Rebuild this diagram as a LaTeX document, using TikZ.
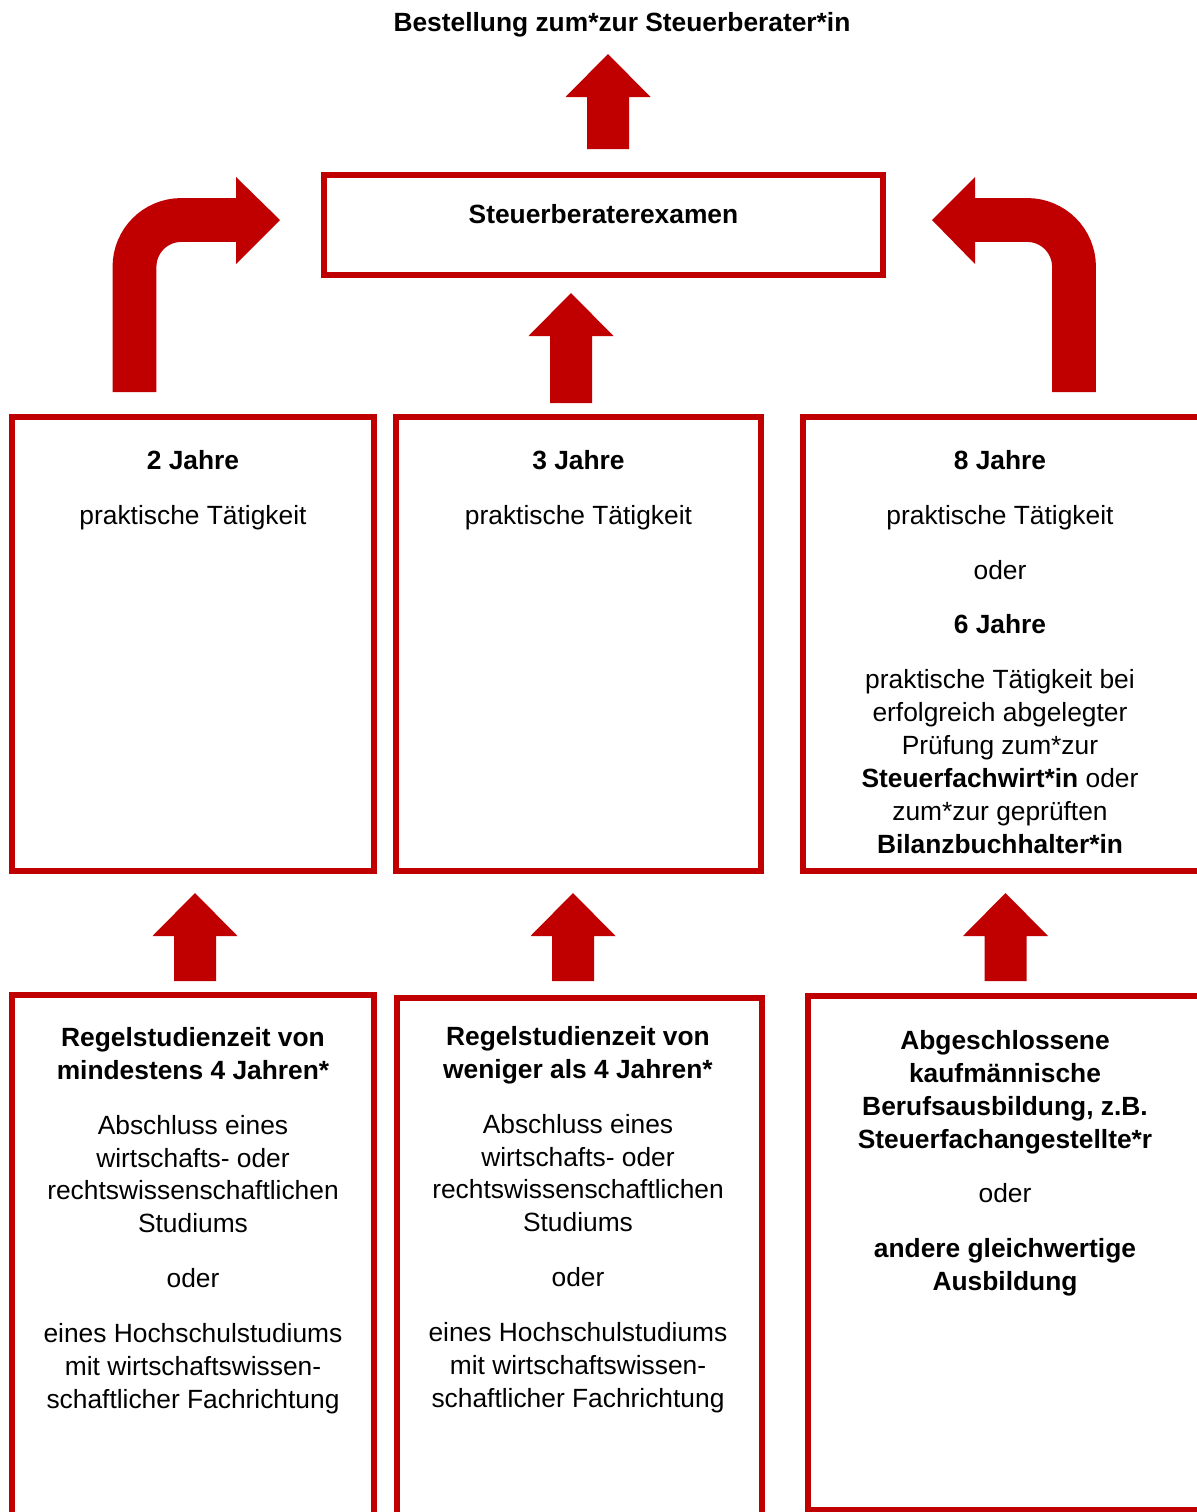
\documentclass[tikz,border=0pt]{standalone}
\usepackage{fontspec}
\setmainfont{Liberation Sans}
\usetikzlibrary{calc}
\definecolor{sred}{RGB}{192,0,0}
\tikzset{>=stealth}
\newcommand{\pgap}{\\[12.5pt]}

\begin{document}
\begin{tikzpicture}[x=0.02cm, y=-0.02cm,
    box/.style={draw=sred, line width=3.4pt, outer sep=0pt, inner sep=0pt},
    txt/.style={anchor=north, align=center, inner sep=0pt, text=black,
        font=\fontsize{15}{18.7}\selectfont},
    pics/uparr/.style={code={
        \fill[sred] (0,0) -- (42.5,43) -- (21,43) -- (21,#1) -- (-21,#1)
            -- (-21,43) -- (-42.5,43) -- cycle;}}]
    \useasboundingbox (0,0) rectangle (1197,1512);
    \clip (0,0) rectangle (1197,1512);

    % boxes
    \node[box, minimum width=11.18cm, minimum height=2cm] (exam) at (603.5,225) {};
    \node[box, minimum width=7.24cm, minimum height=9.08cm] (pt1) at (193,644) {};
    \node[box, minimum width=7.3cm, minimum height=9.08cm] (pt2) at (578.5,644) {};
    \node[box, minimum width=8.14cm, minimum height=9.08cm] (pt3) at (1006.5,644) {};
    \node[box, minimum width=7.24cm, minimum height=10.9cm] (st1) at (193,1267.5) {};
    \node[box, minimum width=7.3cm, minimum height=10.84cm] (st2) at (579.5,1269) {};
    \node[box, minimum width=8.04cm, minimum height=10.28cm] (st3) at (1009,1253) {};

    % texts
    \node[txt] (title) at (622,12) {\textbf{Bestellung zum*zur Steuerberater*in}};
    \node[txt] (examtxt) at ($(exam.north)+(0,29)$) {\textbf{Steuerberaterexamen}};
    \node[txt] (pt1txt) at ($(pt1.north)+(0,33)$) {\textbf{2 Jahre}\pgap praktische Tätigkeit};
    \node[txt] (pt2txt) at ($(pt2.north)+(0,33)$) {\textbf{3 Jahre}\pgap praktische Tätigkeit};
    \node[txt] (pt3txt) at ($(pt3.north)+(-6.5,33)$) {\textbf{8 Jahre}\pgap praktische Tätigkeit\pgap
        oder\pgap \textbf{6 Jahre}\pgap praktische Tätigkeit bei\\ erfolgreich abgelegter\\
        Prüfung zum*zur\\ \textbf{Steuerfachwirt*in} oder\\ zum*zur geprüften\\
        \textbf{Bilanzbuchhalter*in}};
    \node[txt] (st1txt) at ($(st1.north)+(0,32)$) {\textbf{Regelstudienzeit von}\\
        \textbf{mindestens 4 Jahren*}\pgap Abschluss eines\\ wirtschafts- oder\\
        rechtswissenschaftlichen\\ Studiums\pgap oder\pgap eines Hochschulstudiums\\
        mit wirtschaftswissen-\\ schaftlicher Fachrichtung};
    \node[txt] (st2txt) at ($(st2.north)+(-1.5,28)$) {\textbf{Regelstudienzeit von}\\
        \textbf{weniger als 4 Jahren*}\pgap Abschluss eines\\ wirtschafts- oder\\
        rechtswissenschaftlichen\\ Studiums\pgap oder\pgap eines Hochschulstudiums\\
        mit wirtschaftswissen-\\ schaftlicher Fachrichtung};
    \node[txt] (st3txt) at ($(st3.north)+(-4,34)$) {\textbf{Abgeschlossene}\\
        \textbf{kaufmännische}\\ \textbf{Berufsausbildung, z.B.}\\
        \textbf{Steuerfachangestellte*r}\pgap oder\pgap \textbf{andere gleichwertige}\\
        \textbf{Ausbildung}};

    % block arrows
    \pic at (608,54) {uparr=95};
    \pic at (571,293) {uparr=110};
    \pic at (195,893) {uparr=88};
    \pic at (573,893) {uparr=88};
    \pic at (1005.5,893) {uparr=88};

    % bent arrows into the exam box
    \draw[sred, line width=24.95pt, rounded corners=26.6pt] (134.5,392) -- (134.5,220) -- (237,220);
    \fill[sred] (236,177) -- (280,220) -- (236,264) -- cycle;
    \draw[sred, line width=24.95pt, rounded corners=26.6pt] (1074,392) -- (1074,220) -- (974,220);
    \fill[sred] (975,177) -- (932,220) -- (975,264) -- cycle;
\end{tikzpicture}
\end{document}
